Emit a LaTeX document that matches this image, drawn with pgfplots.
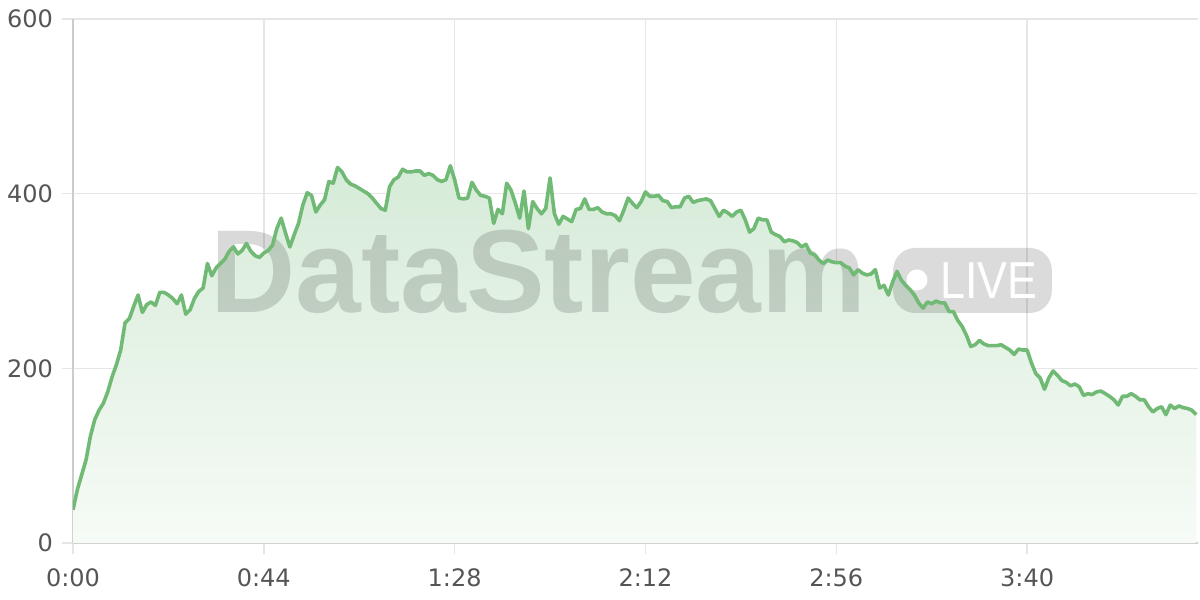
\documentclass[border=0pt]{standalone}
\usepackage{pgfplots}
\usepackage{pgfplotstable}
\pgfplotsset{compat=1.18}
\usepackage{fontspec}
\setmainfont{DejaVu Sans}
\newfontfamily\wmfont{Liberation Sans}

\definecolor{linegreen}{RGB}{112,186,117}
\definecolor{filltop}{RGB}{214,235,216}
\definecolor{fillbot}{RGB}{246,251,246}
\definecolor{gridgray}{RGB}{230,230,230}
\definecolor{axisgray}{RGB}{204,204,204}
\definecolor{labelgray}{RGB}{85,85,85}

% seconds, value
\pgfplotstableread{
t v
0 38
1 61
2 78
3 95
4 122
5 141
6 152
7 160
8 173
9 190
10 204
11 221
12 252
13 257
14 271
15 284
16 264
17 273
18 276
19 272
20 287
21 287
22 284
23 280
24 274
25 284
26 262
27 267
28 280
29 288
30 292
31 320
32 306
33 315
34 320
35 325
36 334
37 339
38 331
39 335
40 343
41 334
42 329
43 327
44 332
45 335
46 341
47 360
48 372
49 355
50 339
51 353
52 366
53 387
54 401
55 398
56 379
57 387
58 393
59 414
60 412
61 430
62 425
63 416
64 411
65 409
66 406
67 403
68 400
69 395
70 389
71 383
72 381
73 408
74 416
75 419
76 428
77 425
78 425
79 426
80 426
81 421
82 423
83 421
84 416
85 414
86 416
87 432
88 416
89 395
90 394
91 395
92 413
93 404
94 398
95 397
96 395
97 366
98 382
99 377
100 412
101 404
102 389
103 372
104 403
105 360
106 391
107 383
108 377
109 383
110 418
111 377
112 365
113 374
114 371
115 368
116 382
117 383
118 394
119 382
120 382
121 384
122 379
123 377
124 377
125 375
126 369
127 381
128 395
129 389
130 384
131 391
132 402
133 397
134 397
135 398
136 392
137 391
138 384
139 385
140 385
141 395
142 397
143 390
144 392
145 393
146 394
147 392
148 383
149 374
150 381
151 378
152 374
153 379
154 381
155 370
156 356
157 360
158 372
159 370
160 370
161 356
162 353
163 351
164 345
165 347
166 346
167 344
168 339
169 342
170 332
171 330
172 324
173 320
174 324
175 322
176 321
177 321
178 317
179 315
180 307
181 313
182 309
183 307
184 308
185 313
186 292
187 295
188 284
189 299
190 311
191 301
192 295
193 290
194 284
195 275
196 269
197 276
198 274
199 277
200 275
201 275
202 265
203 265
204 255
205 248
206 238
207 225
208 227
209 232
210 228
211 226
212 226
213 226
214 227
215 224
216 221
217 216
218 222
219 221
220 221
221 206
222 194
223 189
224 176
225 189
226 197
227 192
228 186
229 184
230 180
231 182
232 179
233 169
234 171
235 170
236 173
237 174
238 171
239 168
240 164
241 158
242 168
243 168
244 171
245 168
246 164
247 164
248 156
249 150
250 154
251 156
252 147
253 158
254 154
255 157
256 155
257 154
258 152
259 147
}\series

\begin{document}
\begin{tikzpicture}
\useasboundingbox (0pt,0pt) rectangle (600pt,300pt);
\begin{axis}[
    at={(36.5pt,28.5pt)}, anchor=south west,
    scale only axis, width=562.5pt, height=262pt,
    xmin=0, xmax=259.4, ymin=0, ymax=600,
    axis x line*=bottom, axis y line*=left,
    x axis line style={axisgray, line width=0.8pt, -},
    y axis line style={axisgray, line width=0.8pt, -},
    grid=major,
    major grid style={gridgray, line width=0.7pt},
    tick align=outside,
    major tick length=5.5pt,
    tick style={gridgray, line width=0.7pt},
    xtick={0,44,88,132,176,220},
    xticklabels={0:00,0:44,1:28,2:12,2:56,3:40},
    ytick={0,200,400,600},
    yticklabels={0,200,400,600},
    tick label style={font=\fontsize{12}{14}\selectfont, text=labelgray},
    xticklabel style={yshift=-4pt},
    yticklabel style={xshift=-1pt},
]
\addplot[draw=none, top color=filltop, bottom color=fillbot]
    table[x=t, y=v] {\series} \closedcycle;

% watermark
\node[anchor=base west, inner sep=0, text=black, text opacity=0.15,
      font=\wmfont\bfseries\fontsize{59}{60}\selectfont]
      at (axis cs:31.6,263.4) {DataStream};
\fill[black, opacity=0.14, rounded corners=11pt]
      (axis cs:189.1,263.4) rectangle (axis cs:225.7,337.8);
\fill[white] (axis cs:194.6,301.2) circle[radius=5.25pt];
\node[anchor=base west, inner sep=0, text=white, xscale=0.86, transform shape,
      font=\wmfont\fontsize{26}{27}\selectfont]
      at (axis cs:199.9,280.5) {LIVE};

\addplot[linegreen, line width=1.8pt, line join=round, mark=none]
    table[x=t, y=v] {\series};
\end{axis}
\end{tikzpicture}
\end{document}
